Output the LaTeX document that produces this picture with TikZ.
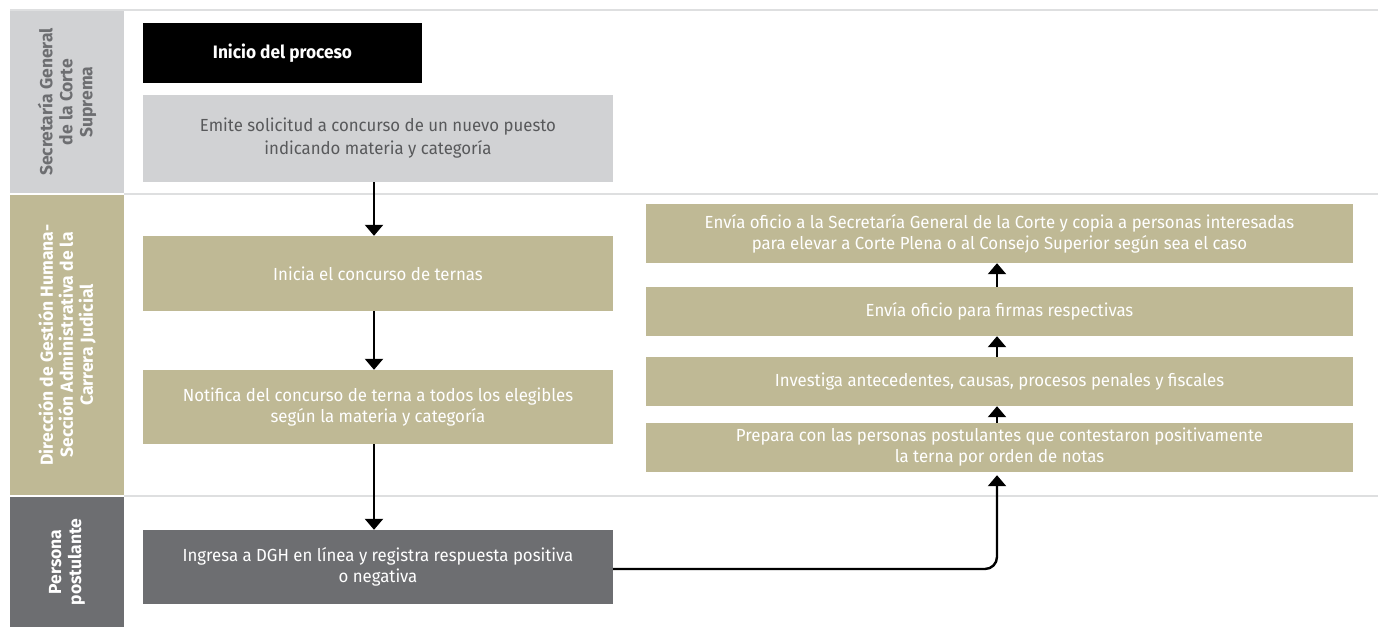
\documentclass[tikz,border=0pt]{standalone}
\usepackage{fontspec}
\setmainfont{Fira Sans}
\newfontfamily\boxfont[FakeStretch=0.96]{Fira Sans}
\newfontfamily\headfont{Fira Sans}
\usetikzlibrary{arrows.meta}
\definecolor{khaki}{HTML}{BFB995}
\definecolor{lgray}{HTML}{D1D2D4}
\definecolor{dgray}{HTML}{6D6E71}
\definecolor{tgray}{HTML}{58595B}
\definecolor{sepline}{HTML}{DEDFE0}
\begin{document}
\begin{tikzpicture}[x=1pt,y=-1pt,
  sep/.style={draw=sepline,line width=2pt},
  lanehead/.style={rectangle,inner sep=0pt,minimum width=114pt},
  headtext/.style={rotate=90,align=center,font=\headfont\bfseries\fontsize{17.5}{20}\selectfont},
  stepbox/.style={rectangle,inner sep=0pt,align=center,font=\boxfont\fontsize{17.5}{21}\selectfont},
  leftbox/.style={stepbox,minimum width=470pt},
  rightbox/.style={stepbox,minimum width=707pt,fill=khaki,text=white},
  arr/.style={line width=2.4pt,-{Triangle[width=18pt,length=11pt]}}
]
\useasboundingbox (0,0) rectangle (1387,627);
\fill[white] (0,0) rectangle (1387,627);

% lane separators
\draw[sep] (10,10) -- (1378,10);
\draw[sep] (124,194) -- (1378,194);
\draw[sep] (124,496) -- (1378,496);

% lane headers
\node[lanehead,fill=lgray,minimum height=182pt] (h1) at (67,102) {};
\node[lanehead,fill=khaki,minimum height=300pt] (h2) at (67,345) {};
\node[lanehead,fill=dgray,minimum height=130pt] (h3) at (67,562) {};
\node[headtext,text=dgray] (h1t) at (h1.center) {Secretaría General\\de la Corte\\Suprema};
\node[headtext,text=white] (h2t) at (h2.center) {Dirección de Gestión Humana-\\Sección Administrativa de la\\Carrera Judicial};
\node[headtext,text=white] (h3t) at (h3.center) {Persona\\postulante};

% left column
\node[stepbox,minimum width=279pt,minimum height=60pt,fill=black,text=white,font=\boxfont\bfseries\fontsize{18}{21}\selectfont] (start) at (282.5,53) {Inicio del proceso};
\node[leftbox,minimum height=87pt,fill=lgray,text=tgray,font=\boxfont\fontsize{17.5}{23}\selectfont] (emite) at (378,138.5) {Emite solicitud a concurso de un nuevo puesto\\indicando materia y categoría};
\node[leftbox,minimum height=75pt,fill=khaki,text=white] (inicia) at (378,273.5) {Inicia el concurso de ternas};
\node[leftbox,minimum height=74pt,fill=khaki,text=white] (notifica) at (378,407) {Notifica del concurso de terna a todos los elegibles\\según la materia y categoría};
\node[leftbox,minimum height=74pt,fill=dgray,text=white] (ingresa) at (378,567) {Ingresa a DGH en línea y registra respuesta positiva\\o negativa};

% right column
\node[rightbox,minimum height=59pt] (envia) at (999.5,233.5) {Envía oficio a la Secretaría General de la Corte y copia a personas interesadas\\para elevar a Corte Plena o al Consejo Superior según sea el caso};
\node[rightbox,minimum height=49pt] (firmas) at (999.5,311.5) {Envía oficio para firmas respectivas};
\node[rightbox,minimum height=49pt] (investiga) at (999.5,381.5) {Investiga antecedentes, causas, procesos penales y fiscales};
\node[rightbox,minimum height=49pt] (prepara) at (999.5,447.5) {Prepara con las personas postulantes que contestaron positivamente\\la terna por orden de notas};

% connectors
\coordinate (lx) at (374,0);
\coordinate (rx) at (997,0);
\draw[arr] (emite.south -| lx) -- (inicia.north -| lx);
\draw[arr] (inicia.south -| lx) -- (notifica.north -| lx);
\draw[arr] (notifica.south -| lx) -- (ingresa.north -| lx);
\draw[arr,rounded corners=12pt,shorten >=3pt] ([yshift=-2pt]ingresa.east) -| (prepara.south -| rx);
\draw[arr] (prepara.north -| rx) -- (investiga.south -| rx);
\draw[arr] (investiga.north -| rx) -- (firmas.south -| rx);
\draw[arr] (firmas.north -| rx) -- (envia.south -| rx);
\end{tikzpicture}
\end{document}
